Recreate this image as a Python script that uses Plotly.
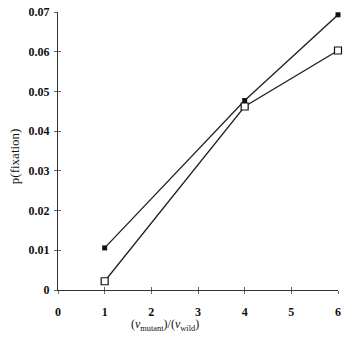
import plotly.graph_objects as go

x_vals = [1, 4, 6]
filled_series = [0.0106, 0.0477, 0.0693]
open_series = [0.0022, 0.0462, 0.0603]
x_ticks = [0, 1, 2, 3, 4, 5, 6]
y_ticks = [0, 0.01, 0.02, 0.03, 0.04, 0.05, 0.06, 0.07]
y_tick_text = ["0", "0.01", "0.02", "0.03", "0.04", "0.05", "0.06", "0.07"]

fig = go.Figure()
fig.add_trace(go.Scatter(x=x_vals, y=filled_series, mode="lines+markers",
                         line=dict(color="#222", width=1.3), cliponaxis=False,
                         marker=dict(symbol="square", size=5, color="#111"),
                         showlegend=False))
fig.add_trace(go.Scatter(x=x_vals, y=open_series, mode="lines+markers",
                         line=dict(color="#222", width=1.3), cliponaxis=False,
                         marker=dict(symbol="square", size=7, color="white",
                                     line=dict(color="#111", width=1.2)),
                         showlegend=False))

tickfont = dict(family="Liberation Serif", size=12, color="#111")
common = dict(showgrid=False, zeroline=False, showline=True, linecolor="#333",
              linewidth=1.3, tickcolor="#666", ticklen=3, tickwidth=1, automargin=False)

fig.update_layout(
    width=347, height=343,
    margin=dict(l=58, r=9, t=12, b=53, autoexpand=False),
    paper_bgcolor="white", plot_bgcolor="white",
    font=dict(family="Liberation Serif", color="#111"),
    xaxis=dict(range=[0, 6], tickvals=x_ticks, ticks="inside",
               tickfont=dict(tickfont, weight="bold"), ticklabelstandoff=10, **common),
    yaxis=dict(range=[0, 0.07], tickvals=y_ticks, ticktext=y_tick_text, ticks="inside",
               tickfont=dict(tickfont, weight="bold"), ticklabelstandoff=5, **common),
    xaxis2=dict(range=[0, 6], tickvals=x_ticks, ticks="outside", overlaying="x",
                showticklabels=False, showline=False, showgrid=False, zeroline=False,
                tickcolor="#666", ticklen=3, tickwidth=1, side="bottom", automargin=False),
    yaxis2=dict(range=[0, 0.07], tickvals=y_ticks, ticks="outside", overlaying="y",
                showticklabels=False, showline=False, showgrid=False, zeroline=False,
                tickcolor="#666", ticklen=3, tickwidth=1, side="left", automargin=False),
)
fig.add_trace(go.Scatter(x=[None], y=[None], xaxis="x2", yaxis="y2", showlegend=False,
                         hoverinfo="skip"))

fig.add_annotation(text="(<i>v</i><sub>mutant</sub>)/(<i>v</i><sub>wild</sub>)",
                   xref="x", yref="paper", x=2.3, y=-0.125, showarrow=False,
                   xanchor="center", yanchor="middle",
                   font=dict(family="Liberation Serif", size=12, color="#111"))
fig.add_annotation(text="p(fixation)", xref="paper", yref="paper", x=-0.155, y=0.48,
                   textangle=-90, showarrow=False, xanchor="center", yanchor="middle",
                   font=dict(family="Liberation Serif", size=13, color="#111"))

fig.write_html("out.html")
